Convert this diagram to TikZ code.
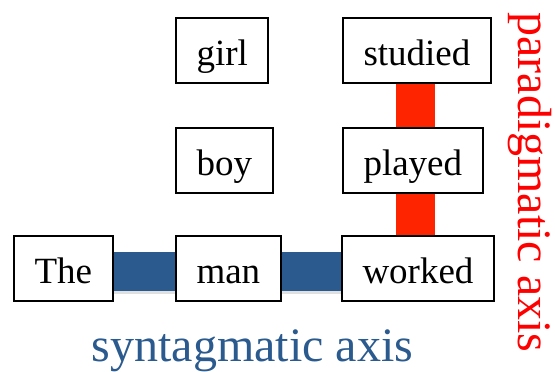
\documentclass[tikz,border=0pt]{standalone}
\usepackage{fontspec}
\setmainfont{Liberation Serif}
\usetikzlibrary{calc}

\definecolor{synblue}{RGB}{42,90,142}
\definecolor{paratext}{RGB}{255,0,0}
\definecolor{parared}{RGB}{255,36,0}

\tikzset{
  word/.style={draw=black, line width=2pt, fill=white, anchor=west,
    inner xsep=20.5pt, inner ysep=0pt, minimum height=65pt,
    text height=30pt, text depth=0pt, font=\fontsize{37}{40}\selectfont},
  synbar/.style={draw=synblue, line width=39pt},
  synshadow/.style={draw=black!12, line width=39pt},
  parabar/.style={draw=parared, line width=39pt}
}

\begin{document}
\begin{tikzpicture}[x=1pt,y=-1pt]
  \useasboundingbox (0,0) rectangle (555,372);

  % the words
  \node[word] (the) at (13,268) {The};
  \node[word] (man) at (175,268) {man};
  \node[word] (worked) at (341,268) {worked};
  \node[word] (boy) at (175,160.5) {boy};
  \node[word] (played) at (342,160.5) {played};
  \node[word] (girl) at (175,50.5) {girl};
  \node[word] (studied) at (342,50.5) {studied};

  \coordinate (synline) at (0,271.5);
  \coordinate (paraline) at (415.5,0);

  % syntagmatic axis
  \draw[synshadow] ([yshift=-3pt]the.east |- synline) -- ([yshift=-3pt]man.west |- synline);
  \draw[synshadow] ([yshift=-3pt]man.east |- synline) -- ([yshift=-3pt]worked.west |- synline);
  \draw[synbar] (the.east |- synline) -- (man.west |- synline);
  \draw[synbar] (man.east |- synline) -- (worked.west |- synline);

  % paradigmatic axis
  \draw[parabar] (studied.south -| paraline) -- (played.north -| paraline);
  \draw[parabar] (played.south -| paraline) -- (worked.north -| paraline);

  \node[anchor=base, text=synblue, font=\fontsize{48}{50}\selectfont] (synlabel) at (252.5,361) {syntagmatic axis};
  \node[anchor=base, rotate=-90, text=paratext, font=\fontsize{48}{50}\selectfont] (paralabel) at (518,182.5) {paradigmatic axis};
\end{tikzpicture}
\end{document}
